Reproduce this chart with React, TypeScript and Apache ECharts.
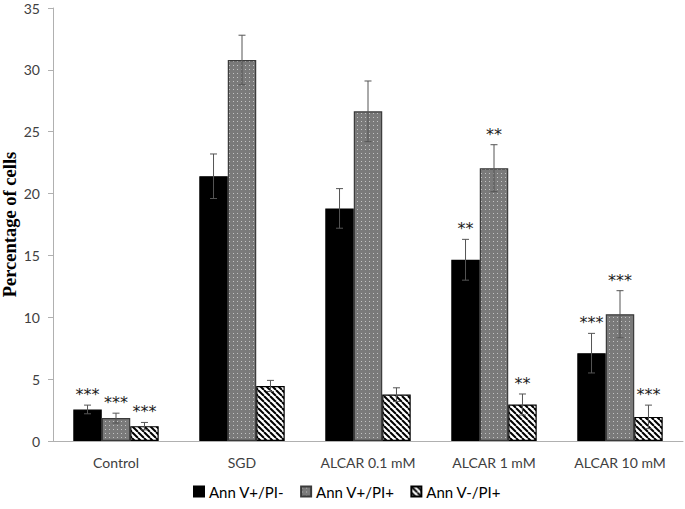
import React, { useEffect, useRef } from "react";
import * as echarts from "echarts";

const categories = ["Control", "SGD", "ALCAR 0.1 mM", "ALCAR 1 mM", "ALCAR 10 mM"];
const seriesNames = ["Ann V+/PI-", "Ann V+/PI+", "Ann V-/PI+"];
const valuesBlack = [2.55, 21.4, 18.8, 14.65, 7.1];
const valuesGray = [1.85, 30.8, 26.65, 22.05, 10.25];
const valuesHatch = [1.2, 4.45, 3.75, 2.95, 1.95];
const errBlack = [0.35, 1.8, 1.6, 1.65, 1.6];
const errGray = [0.4, 2.0, 2.45, 1.9, 1.9];
const errHatch = [0.3, 0.45, 0.55, 0.85, 0.95];
const starsBlack = ["***", "", "", "**", "***"];
const starsGray = ["***", "", "", "**", "***"];
const starsHatch = ["***", "", "", "**", "***"];
const yTicks = { min: 0, max: 35, interval: 5 };

function makeDots(): HTMLCanvasElement {
  const c = document.createElement("canvas");
  c.width = 4;
  c.height = 4;
  const g = c.getContext("2d")!;
  g.fillStyle = "#7a7a7a";
  g.fillRect(0, 0, 4, 4);
  g.fillStyle = "#c4c4c4";
  g.fillRect(1, 1, 1, 1);
  return c;
}

function makeHatch(): HTMLCanvasElement {
  const c = document.createElement("canvas");
  c.width = 6;
  c.height = 6;
  const g = c.getContext("2d")!;
  g.fillStyle = "#ffffff";
  g.fillRect(0, 0, 6, 6);
  g.strokeStyle = "#000000";
  g.lineWidth = 2;
  for (const x0 of [-6, 0, 6]) {
    g.beginPath();
    g.moveTo(x0, 0);
    g.lineTo(x0 + 6, 6);
    g.stroke();
  }
  return c;
}

const BAR_FRAC = 0.226;

export default function App() {
  const ref = useRef<HTMLDivElement>(null);
  useEffect(() => {
    if (!ref.current) return;
    const chart = echarts.init(ref.current, undefined, { renderer: "svg" });
    const dots = makeDots();
    const hatch = makeHatch();
    const fills: any[] = [
      "#000000",
      { image: dots, repeat: "repeat" },
      { image: hatch, repeat: "repeat" },
    ];
    const borders = ["#000000", "#3a3a3a", "#000000"];
    const vals = [valuesBlack, valuesGray, valuesHatch];
    const errs = [errBlack, errGray, errHatch];
    const stars = [starsBlack, starsGray, starsHatch];

    const barSeries = seriesNames.map((name, i) => ({
      name,
      type: "bar",
      data: vals[i],
      barWidth: BAR_FRAC * 100 + "%",
      barGap: "0%",
      itemStyle: { color: fills[i], borderColor: borders[i], borderWidth: 1.2 },
    }));

    const errSeries = seriesNames.map((name, i) => ({
      name: name + " err",
      type: "custom",
      z: 5,
      itemStyle: { color: "#1a1a1a" },
      data: vals[i].map((v, k) => [k, v, errs[i][k]]),
      renderItem: (params: any, api: any) => {
        const k = api.value(0);
        const v = api.value(1);
        const e = api.value(2);
        const s = stars[i][params.dataIndex];
        const band = api.size([1, 0])[0];
        const w = band * BAR_FRAC;
        const cx = api.coord([k, v])[0] + (i - 1) * w;
        const top = api.coord([k, v + e])[1];
        const bot = api.coord([k, v - e])[1];
        const st = { stroke: "#555555", lineWidth: 1 };
        const children: any[] = [
          { type: "line", shape: { x1: cx, y1: top, x2: cx, y2: bot }, style: st },
          { type: "line", shape: { x1: cx - 3.5, y1: top, x2: cx + 3.5, y2: top }, style: st },
          { type: "line", shape: { x1: cx - 3.5, y1: bot, x2: cx + 3.5, y2: bot }, style: st },
        ];
        if (s) {
          children.push({
            type: "text",
            x: cx,
            y: top - 10.5,
            style: {
              text: s,
              fill: "#1a1a1a",
              fontFamily: "DejaVu Sans",
              fontSize: 16,
              align: "center",
              verticalAlign: "middle",
            },
          });
        }
        return { type: "group", children };
      },
    }));

    chart.setOption({
      animation: false,
      grid: { left: 53, right: 2, top: 8, bottom: 68, containLabel: false, outerBoundsMode: "none" },
      legend: {
        data: seriesNames,
        bottom: 5,
        left: 188,
        icon: "rect",
        itemWidth: 10,
        itemHeight: 10,
        itemGap: 16,
        textStyle: { fontFamily: "Lato", fontSize: 15, color: "#000000" },
      },
      xAxis: {
        type: "category",
        data: categories,
        axisLine: { lineStyle: { color: "#b0b0b0", width: 1 } },
        axisTick: { show: false },
        axisLabel: { fontFamily: "Lato", fontSize: 14, color: "#404040", margin: 14 },
      },
      yAxis: {
        type: "value",
        min: yTicks.min,
        max: yTicks.max,
        interval: yTicks.interval,
        name: "Percentage of cells",
        nameLocation: "middle",
        nameGap: 34,
        nameMoveOverlap: false,
        nameTextStyle: {
          fontFamily: "Liberation Serif",
          fontWeight: "bold",
          fontSize: 18.5,
          color: "#000000",
        },
        splitLine: { show: false },
        axisLine: { show: true, lineStyle: { color: "#b0b0b0", width: 1 } },
        axisTick: { show: true, length: 5, lineStyle: { color: "#b0b0b0" } },
        axisLabel: { fontFamily: "Lato", fontSize: 14, color: "#404040", margin: 13 },
      },
      series: [...barSeries, ...errSeries],
    });
    return () => chart.dispose();
  }, []);
  return (
    <div
      ref={ref}
      style={{ position: "absolute", left: 0, top: 0, width: 685, height: 509 }}
    />
  );
}
